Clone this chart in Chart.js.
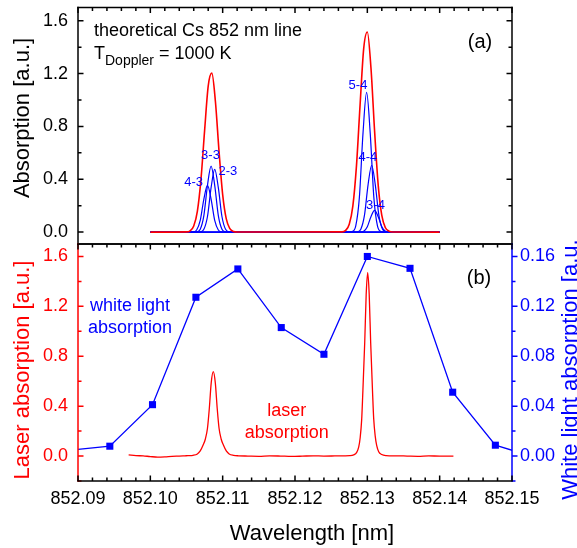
<!DOCTYPE html>
<html>
<head>
<meta charset="utf-8">
<script src="https://cdn.jsdelivr.net/npm/chart.js@4.4.1/dist/chart.umd.min.js"></script>
<style>
  html, body { margin: 0; padding: 0; background: #fff; }
  #wrap { position: relative; width: 577px; height: 548px; overflow: hidden; background: #fff; }
  #wrap canvas { position: absolute; left: 0; }
</style>
</head>
<body>
<div id="wrap">
  <canvas id="panelA" width="577" height="246" style="top:0"></canvas>
  <canvas id="panelB" width="577" height="308" style="top:240px"></canvas>
</div>
<script>
const RED = "#ff0000";
const BLUE = "#0000ff";
const FONT = "'Liberation Sans', Arial, Helvetica, sans-serif";

Chart.defaults.font.family = FONT;

// tick labels
const xTicks = [852.09, 852.10, 852.11, 852.12, 852.13, 852.14, 852.15];
const absTicks = [0.0, 0.4, 0.8, 1.2, 1.6];
const whiteTicks = [0.00, 0.04, 0.08, 0.12, 0.16];

// (a) theoretical line, total (red)
const topRedX = [852.1000, 852.1050, 852.1055, 852.1060, 852.1065, 852.1070, 852.1075, 852.1080, 852.1085,
  852.1090, 852.1095, 852.1100, 852.1105, 852.1110, 852.1115, 852.1120,
  852.1265, 852.1270, 852.1275, 852.1280, 852.1285, 852.1290, 852.1295, 852.1300, 852.1305,
  852.1310, 852.1315, 852.1320, 852.1325, 852.1330, 852.1335, 852.1400];
const topRedY = [0, 0.002, 0.010, 0.046, 0.157, 0.399, 0.766, 1.105, 1.203,
  0.987, 0.610, 0.284, 0.100, 0.026, 0.005, 0.001,
  0.002, 0.013, 0.059, 0.198, 0.503, 0.965, 1.391, 1.515, 1.244,
  0.768, 0.358, 0.126, 0.033, 0.007, 0.001, 0];

// (a) hyperfine components (blue)
const c43X = [852.1000, 852.1054, 852.1059, 852.1064, 852.1069, 852.1074, 852.1079, 852.1084, 852.1089, 852.1094, 852.1099, 852.1104, 852.1400];
const c43Y = [0, 0, 0.001, 0.016, 0.088, 0.250, 0.354, 0.250, 0.088, 0.016, 0.001, 0, 0];
const c33X = [852.1000, 852.1059, 852.1064, 852.1069, 852.1074, 852.1079, 852.1084, 852.1089, 852.1094, 852.1099, 852.1104, 852.1109, 852.1400];
const c33Y = [0, 0, 0.002, 0.022, 0.125, 0.354, 0.500, 0.354, 0.125, 0.022, 0.002, 0, 0];
const c23X = [852.1000, 852.1064, 852.1069, 852.1074, 852.1079, 852.1084, 852.1089, 852.1094, 852.1099, 852.1104, 852.1109, 852.1114, 852.1400];
const c23Y = [0, 0, 0.002, 0.021, 0.118, 0.336, 0.475, 0.336, 0.118, 0.021, 0.002, 0, 0];
const c54X = [852.1000, 852.1274, 852.1279, 852.1284, 852.1289, 852.1294, 852.1299, 852.1304, 852.1309, 852.1314, 852.1319, 852.1324, 852.1400];
const c54Y = [0, 0, 0.004, 0.047, 0.263, 0.747, 1.057, 0.747, 0.263, 0.047, 0.004, 0, 0];
const c44X = [852.1000, 852.1281, 852.1286, 852.1291, 852.1296, 852.1301, 852.1306, 852.1311, 852.1316, 852.1321, 852.1326, 852.1331, 852.1400];
const c44Y = [0, 0, 0.002, 0.022, 0.126, 0.358, 0.506, 0.358, 0.126, 0.022, 0.002, 0, 0];
const c34X = [852.1000, 852.1285, 852.1290, 852.1295, 852.1300, 852.1305, 852.1310, 852.1315, 852.1320, 852.1325, 852.1330, 852.1335, 852.1400];
const c34Y = [0, 0, 0.001, 0.007, 0.041, 0.117, 0.165, 0.117, 0.041, 0.007, 0.001, 0, 0];

// (b) laser absorption (left axis)
const laserX = [852.0970, 852.0980, 852.0990, 852.1000, 852.1010, 852.1020, 852.1030, 852.1040, 852.1048,
  852.1052, 852.1059, 852.1065, 852.1069, 852.1073, 852.1076, 852.1079, 852.10815, 852.10842, 852.1087,
  852.10898, 852.10925, 852.1095, 852.1098, 852.1101, 852.1105, 852.1109, 852.1115, 852.1122,
  852.1135, 852.1150, 852.1165, 852.1180, 852.1195, 852.1210, 852.1225, 852.1240, 852.1255, 852.1268,
  852.12756, 852.12811, 852.12853, 852.12881, 852.12901, 852.12922, 852.12936, 852.12964, 852.12984, 852.13005,
  852.13026, 852.13046, 852.13074, 852.13088, 852.13109, 852.13129, 852.13157, 852.13199, 852.1326,
  852.1340, 852.1355, 852.1370, 852.1385, 852.1400, 852.1419];
const laserY = [0.010, 0.004, 0.001, -0.004, -0.008, -0.006, -0.002, 0.000, 0.002,
  0.003, 0.006, 0.017, 0.041, 0.088, 0.135, 0.223, 0.379, 0.589, 0.677,
  0.589, 0.379, 0.223, 0.135, 0.088, 0.041, 0.017, 0.006, 0.002,
  0.000, -0.002, 0.002, 0.000, -0.003, -0.001, 0.002, 0.000, 0.001, 0.002,
  0.003, 0.009, 0.029, 0.074, 0.147, 0.294, 0.485, 0.912, 1.294, 1.471,
  1.294, 0.912, 0.485, 0.300, 0.160, 0.085, 0.035, 0.012, 0.004,
  0.002, 0.000, -0.002, 0.001, 0.000, 0.000];

// (b) white light absorption (right axis)
const whiteX = [852.0885, 852.0944, 852.1003, 852.1063, 852.1121, 852.1181, 852.1240, 852.1300, 852.1359, 852.1418, 852.1477, 852.1536];
const whiteY = [0.0044, 0.0079, 0.0412, 0.1273, 0.1500, 0.1030, 0.0816, 0.1600, 0.1505, 0.0512, 0.0087, -0.0016];

const pts = (xs, ys) => xs.map((x, i) => ({ x, y: ys[i] }));

// frame with inward / outward tick marks like the original plot
const frameTicks = {
  id: "frameTicks",
  afterDatasetsDraw(chart, args, opts) {
    const { ctx, chartArea: area, scales } = chart;
    ctx.save();
    ctx.lineWidth = 1.5;
    opts.sides.forEach((side) => {
      const scale = scales[side.scale];
      const horiz = side.edge === "top" || side.edge === "bottom";
      const pos = area[side.edge];
      ctx.strokeStyle = side.color;
      ctx.lineCap = "square";
      ctx.beginPath();
      if (horiz) {
        ctx.moveTo(area.left, pos);
        ctx.lineTo(area.right, pos);
      } else {
        ctx.moveTo(pos, area.top);
        ctx.lineTo(pos, area.bottom);
      }
      ctx.stroke();
      if (!side.dir) return;

      const sign = (side.edge === "left" || side.edge === "top" ? 1 : -1) * side.dir;
      const first = Math.ceil(scale.min / side.step - 1e-6);
      const last = Math.floor(scale.max / side.step + 1e-6);
      ctx.lineCap = "butt";
      ctx.beginPath();
      for (let i = first; i <= last; i++) {
        const v = i * side.step;
        const major = side.major.some((m) => Math.abs(m - v) < side.step / 10);
        const len = major ? 5.5 : 3.5;
        const p = scale.getPixelForValue(v);
        if (horiz) {
          ctx.moveTo(p, pos);
          ctx.lineTo(p, pos + sign * len);
        } else {
          ctx.moveTo(pos, p);
          ctx.lineTo(pos + sign * len, p);
        }
      }
      ctx.stroke();
    });
    ctx.restore();
  },
};

// free text: annotations and axis titles
const notes = {
  id: "notes",
  afterDraw(chart, args, opts) {
    const { ctx } = chart;
    opts.items.forEach((it) => {
      ctx.save();
      ctx.fillStyle = it.color || "#000";
      ctx.textAlign = it.align || "left";
      ctx.textBaseline = "alphabetic";
      ctx.translate(it.x, it.y);
      if (it.rotate) ctx.rotate(it.rotate);
      if (it.parts) {
        let x = 0;
        it.parts.forEach((p) => {
          ctx.font = `${p.size}px ${FONT}`;
          ctx.fillText(p.text, x, p.dy || 0);
          x += ctx.measureText(p.text).width;
        });
      } else {
        ctx.font = `${it.size}px ${FONT}`;
        ctx.fillText(it.text, 0, 0);
      }
      ctx.restore();
    });
  },
};

const lineBase = {
  pointRadius: 0,
  cubicInterpolationMode: "monotone",
  fill: false,
};

// fixed axis size, no label overflow padding (plot frame is placed by hand)
const fixSize = (key, size) => (s) => {
  s[key] = size;
  s.paddingTop = 0;
  s.paddingBottom = 0;
  s.paddingLeft = 0;
  s.paddingRight = 0;
};

const yTicks = (list, digits, color, padding) => ({
  afterBuildTicks: (s) => {
    s.ticks = list.map((v) => ({ value: v }));
  },
  grid: { display: false, drawTicks: false },
  border: { display: false },
  ticks: {
    padding,
    color,
    font: { size: 18 },
    callback: (v) => Number(v).toFixed(digits),
  },
});

// ---------- panel (a) ----------
new Chart(document.getElementById("panelA"), {
  type: "line",
  data: {
    datasets: [
      { ...lineBase, data: pts(topRedX, topRedY), borderColor: RED, borderWidth: 1.6 },
      { ...lineBase, data: pts(c43X, c43Y), borderColor: BLUE, borderWidth: 1.2 },
      { ...lineBase, data: pts(c33X, c33Y), borderColor: BLUE, borderWidth: 1.2 },
      { ...lineBase, data: pts(c23X, c23Y), borderColor: BLUE, borderWidth: 1.2 },
      { ...lineBase, data: pts(c54X, c54Y), borderColor: BLUE, borderWidth: 1.2 },
      { ...lineBase, data: pts(c44X, c44Y), borderColor: BLUE, borderWidth: 1.2 },
      { ...lineBase, data: pts(c34X, c34Y), borderColor: BLUE, borderWidth: 1.2 },
    ],
  },
  options: {
    responsive: false,
    animation: false,
    layout: { autoPadding: false, padding: { top: 7.5, right: 65, bottom: 2, left: 0 } },
    plugins: {
      legend: { display: false },
      tooltip: { enabled: false },
      frameTicks: {
        sides: [
          { edge: "left", scale: "y", major: absTicks, step: 0.2, dir: 1, color: "#000" },
          { edge: "right", scale: "y", major: absTicks, step: 0.2, dir: 1, color: "#000" },
          { edge: "top", scale: "x", major: xTicks, step: 0.002, dir: 1, color: "#000" },
          { edge: "bottom", scale: "x", major: xTicks, step: 0.002, dir: 0, color: "#000" },
        ],
      },
      notes: {
        items: [
          { text: "theoretical Cs 852 nm line", x: 94, y: 36, size: 18 },
          {
            x: 94, y: 59,
            parts: [
              { text: "T", size: 18 },
              { text: "Doppler", size: 14, dy: 6 },
              { text: " = 1000 K", size: 18 },
            ],
          },
          { text: "(a)", x: 480, y: 47.5, size: 20, align: "center" },
          { text: "4-3", x: 193.7, y: 185.5, size: 13, align: "center", color: BLUE },
          { text: "3-3", x: 210.5, y: 159.3, size: 13, align: "center", color: BLUE },
          { text: "2-3", x: 227.8, y: 175.2, size: 13, align: "center", color: BLUE },
          { text: "5-4", x: 358, y: 89, size: 13, align: "center", color: BLUE },
          { text: "4-4", x: 367.8, y: 160.9, size: 13, align: "center", color: BLUE },
          { text: "3-4", x: 375.5, y: 209, size: 13, align: "center", color: BLUE },
          { text: "Absorption [a.u.]", x: 28.7, y: 118, size: 22, align: "center", rotate: -Math.PI / 2 },
        ],
      },
    },
    scales: {
      x: { type: "linear", min: 852.09, max: 852.15, display: false },
      y: {
        min: -0.09,
        max: 1.7,
        afterFit: fixSize("width", 78),
        ...yTicks(absTicks, 1, "#000", 10),
      },
    },
  },
  plugins: [frameTicks, notes],
});

// ---------- panel (b) ----------
new Chart(document.getElementById("panelB"), {
  type: "line",
  data: {
    datasets: [
      { ...lineBase, data: pts(laserX, laserY), yAxisID: "y", borderColor: RED, borderWidth: 1.3 },
      {
        data: pts(whiteX, whiteY),
        yAxisID: "y2",
        borderColor: BLUE,
        borderWidth: 1.3,
        tension: 0,
        pointStyle: "rect",
        pointRadius: 5,
        pointBorderWidth: 0,
        pointBackgroundColor: BLUE,
        fill: false,
      },
    ],
  },
  options: {
    responsive: false,
    animation: false,
    layout: { autoPadding: false, padding: { top: 4, right: 0, bottom: 0, left: 0 } },
    plugins: {
      legend: { display: false },
      tooltip: { enabled: false },
      frameTicks: {
        sides: [
          { edge: "left", scale: "y", major: absTicks, step: 0.2, dir: 1, color: RED },
          { edge: "right", scale: "y2", major: whiteTicks, step: 0.02, dir: -1, color: BLUE },
          { edge: "top", scale: "x", major: xTicks, step: 0.002, dir: 1, color: "#000" },
          { edge: "bottom", scale: "x", major: xTicks, step: 0.002, dir: 1, color: "#000" },
        ],
      },
      notes: {
        items: [
          { text: "(b)", x: 479, y: 44, size: 20, align: "center" },
          { text: "white light", x: 130, y: 71, size: 18, align: "center", color: BLUE },
          { text: "absorption", x: 130, y: 93.3, size: 18, align: "center", color: BLUE },
          { text: "laser", x: 286.7, y: 175.5, size: 18, align: "center", color: RED },
          { text: "absorption", x: 286.7, y: 197.7, size: 18, align: "center", color: RED },
          { text: "Laser absorption [a.u.]", x: 28.7, y: 130, size: 22, align: "center", color: RED, rotate: -Math.PI / 2 },
          { text: "White light absorption [a.u.]", x: 577, y: 126.5, size: 22, align: "center", color: BLUE, rotate: -Math.PI / 2 },
          { text: "Wavelength [nm]", x: 312, y: 300, size: 22, align: "center" },
        ],
      },
    },
    scales: {
      x: {
        type: "linear",
        min: 852.09,
        max: 852.15,
        position: "bottom",
        afterFit: fixSize("height", 67),
        afterBuildTicks: (s) => {
          s.ticks = xTicks.map((v) => ({ value: v }));
        },
        grid: { display: false, drawTicks: false },
        border: { display: false },
        ticks: {
          padding: 7,
          maxRotation: 0,
          autoSkip: false,
          color: "#000",
          font: { size: 18 },
          callback: (v) => Number(v).toFixed(2),
        },
      },
      y: {
        position: "left",
        min: -0.2,
        max: 1.7,
        afterFit: fixSize("width", 78),
        ...yTicks(absTicks, 1, RED, 10),
      },
      y2: {
        position: "right",
        min: -0.02,
        max: 0.17,
        afterFit: fixSize("width", 65),
        ...yTicks(whiteTicks, 2, BLUE, 8),
      },
    },
  },
  plugins: [frameTicks, notes],
});
</script>
</body>
</html>
